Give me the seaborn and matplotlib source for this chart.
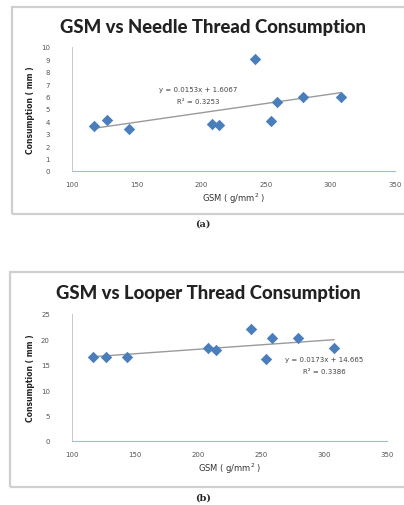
import matplotlib
matplotlib.use("Agg")
import matplotlib.pyplot as plt
from matplotlib.patches import Rectangle
import seaborn as sns
import pandas as pd

# Data
gsm = [117, 127, 144, 208, 214, 242, 254, 259, 279, 308]
needle = [3.6, 4.1, 3.4, 3.8, 3.7, 9.0, 4.0, 5.6, 6.0, 6.0]
looper = [16.5, 16.6, 16.6, 18.4, 17.9, 22.0, 16.2, 20.3, 20.3, 18.4]
title_a = "GSM vs Needle Thread Consumption"
title_b = "GSM vs Looper Thread Consumption"
eq_a = ["y = 0.0153x + 1.6067", "R² = 0.3253"]
eq_b = ["y = 0.0173x + 14.665", "R² = 0.3386"]
xticks = [100, 150, 200, 250, 300, 350]
yticks_a = list(range(0, 11))
yticks_b = [0, 5, 10, 15, 20, 25]

sns.set_style("white")
plt.rcParams['font.family'] = ['DejaVu Sans']

W, H = 404, 506
fig = plt.figure(figsize=(W / 100, H / 100), dpi=100)

def px_axes(l, r, top, bot):
    return fig.add_axes([l / W, 1 - bot / H, (r - l) / W, (bot - top) / H])

# Frames
fig.add_artist(Rectangle((12 / W, 1 - 215 / H), 400 / W, 207 / H,
                         transform=fig.transFigure, fill=False,
                         edgecolor="#cfcfcf", lw=1.6))
fig.add_artist(Rectangle((10 / W, 1 - 488 / H), 400 / W, 215 / H,
                         transform=fig.transFigure, fill=False,
                         edgecolor="#cfcfcf", lw=1.6))

blue = "#4a7ebb"

def draw(ax, y, yticks, ymax, eq, eqpos):
    df = pd.DataFrame({"GSM": gsm, "val": y})
    sns.regplot(data=df, x="GSM", y="val", ax=ax, scatter=False, ci=None,
                truncate=True, line_kws=dict(color="#9a9a9a", lw=1.0))
    sns.scatterplot(data=df, x="GSM", y="val", ax=ax, marker="D", s=34,
                    color=blue, edgecolor=blue, linewidth=0, zorder=3)
    ax.set_xlim(100, 350)
    ax.set_ylim(0, ymax)
    ax.set_xticks(xticks)
    ax.set_yticks(yticks)
    ax.tick_params(axis="both", labelsize=5, length=2, width=0.6)
    ax.tick_params(axis="x", colors="#88a8d8", labelcolor="#555555", pad=5)
    ax.tick_params(axis="y", colors="#c8c8c8", labelcolor="#555555", pad=14)
    for s in ["top", "right"]:
        ax.spines[s].set_visible(False)
    ax.spines["left"].set_color("#c8c8c8")
    ax.spines["left"].set_linewidth(0.7)
    ax.spines["bottom"].set_color("#9fbbe0")
    ax.spines["bottom"].set_linewidth(0.8)
    ax.set_xlabel("GSM ( g/mm$^2$ )", fontsize=6, color="#333333", labelpad=3)
    ax.set_ylabel("Consumption ( mm )", fontsize=5.5, fontweight="bold",
                  color="#222222", labelpad=4)
    ax.text(eqpos[0], eqpos[1], eq[0], transform=ax.transAxes, fontsize=5,
            color="#444444", ha="center", va="center")
    ax.text(eqpos[0], eqpos[2], eq[1], transform=ax.transAxes, fontsize=5,
            color="#444444", ha="center", va="center")

ax1 = px_axes(72, 395, 48, 172)
draw(ax1, needle, yticks_a, 10, eq_a, (0.39, 0.66, 0.565))
ax2 = px_axes(72, 387, 315, 442)
draw(ax2, looper, yticks_b, 25, eq_b, (0.8, 0.645, 0.55))

fig.text(213 / W, 1 - 27 / H, title_a, ha="center", va="center",
         fontsize=13.3, fontweight="black", color="#222222", family="Lato")
fig.text(208 / W, 1 - 293 / H, title_b, ha="center", va="center",
         fontsize=13.3, fontweight="black", color="#222222", family="Lato")
fig.text(203 / W, 1 - 224 / H, "(a)", ha="center", va="center",
         fontsize=7, fontweight="bold", family="DejaVu Serif")
fig.text(203 / W, 1 - 498 / H, "(b)", ha="center", va="center",
         fontsize=7, fontweight="bold", family="DejaVu Serif")

fig.savefig("out.png", dpi=100)
